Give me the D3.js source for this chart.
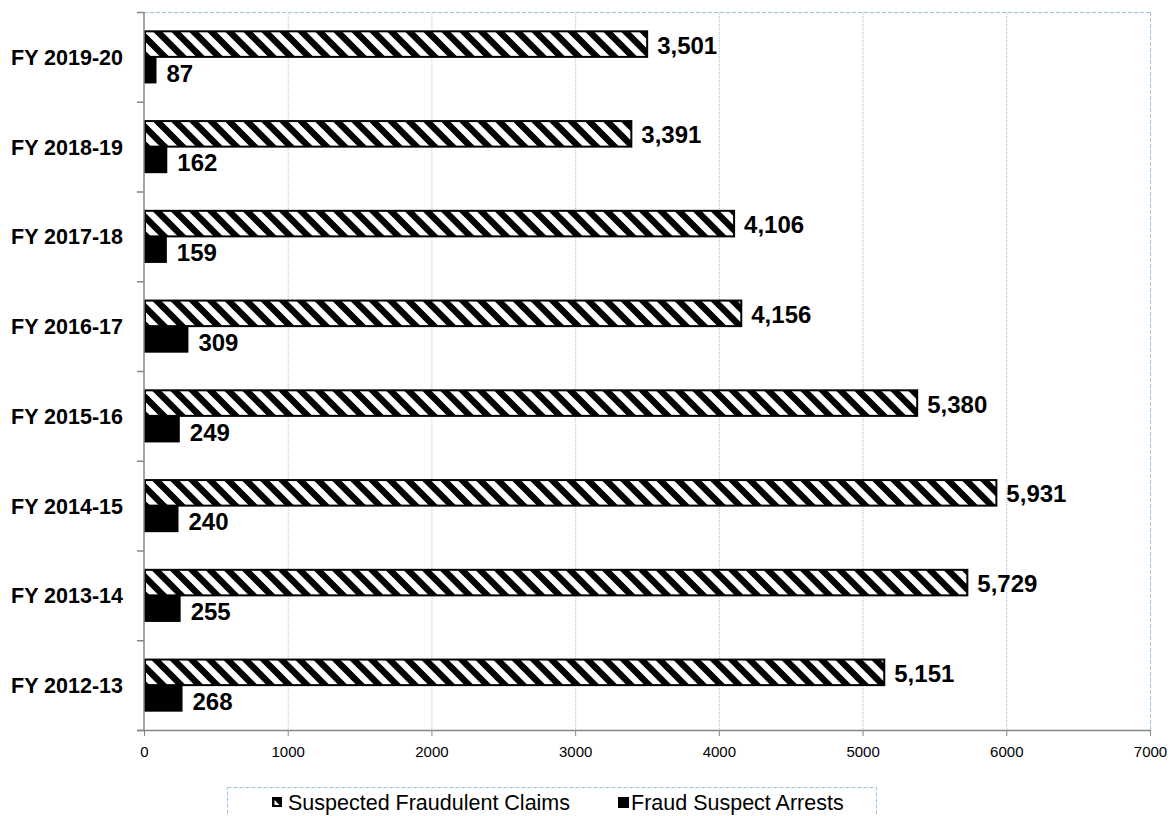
<!DOCTYPE html>
<html><head><meta charset="utf-8">
<script src="https://cdn.jsdelivr.net/npm/d3@7"></script>
<style>body{margin:0;background:#fff;} svg{display:block;font-family:"Liberation Sans",Arial,sans-serif;}</style>
</head><body>
<script>
const categories = ["FY 2019-20","FY 2018-19","FY 2017-18","FY 2016-17","FY 2015-16","FY 2014-15","FY 2013-14","FY 2012-13"];
const claims = [3501, 3391, 4106, 4156, 5380, 5931, 5729, 5151];
const arrests = [87, 162, 159, 309, 249, 240, 255, 268];
const xTicks = [0,1000,2000,3000,4000,5000,6000,7000];
const seriesNames = ["Suspected Fraudulent Claims","Fraud Suspect Arrests"];

(function(){
const W = 1173, H = 816;
const svg = d3.select("body").append("svg").attr("width", W).attr("height", H);
const defs = svg.append("defs");
const P = 18;
const pat = defs.append("pattern").attr("id","hatch").attr("patternUnits","userSpaceOnUse")
  .attr("width",P).attr("height",P);
pat.append("rect").attr("width",P).attr("height",P).attr("fill","#fff");
pat.append("path").attr("d",`M${-P},0 L${P},${2*P} M0,${-P} L${2*P},${P} M${-P},${-P} L${2*P},${2*P}`)
  .attr("stroke","#000").attr("stroke-width",P*0.36);

const pLeft = 144, pRight = 1150, pTop = 12, pBottom = 730;
const x = d3.scaleLinear().domain([0,7000]).range([pLeft,pRight]);
const y = d3.scaleBand().domain(categories).range([pTop,pBottom]);
const sub = d3.scaleBand().domain(["claims","arrests"]).range([0,y.bandwidth()]).paddingOuter(0.69);

const grid = "#9dc3e6";
svg.append("g").selectAll("line").data(xTicks.filter(t=>t>0 && t<7000)).join("line")
  .attr("x1",d=>x(d)+0.5).attr("x2",d=>x(d)+0.5).attr("y1",pTop).attr("y2",pBottom)
  .attr("stroke",grid).attr("stroke-width",1).attr("stroke-dasharray","1,1");
svg.append("line").attr("x1",pLeft).attr("x2",pRight).attr("y1",pTop+0.5).attr("y2",pTop+0.5)
  .attr("stroke",grid).attr("stroke-dasharray","4,2");
svg.append("line").attr("x1",pRight+0.5).attr("x2",pRight+0.5).attr("y1",pTop).attr("y2",pBottom)
  .attr("stroke",grid).attr("stroke-dasharray","4,2");

const rows = categories.map((c,i)=>({c, claims:claims[i], arrests:arrests[i]}));
const g = svg.append("g");
g.selectAll("rect.cl").data(rows).join("rect").attr("class","cl")
  .attr("x",x(0)+1).attr("y",d=>y(d.c)+sub("claims")+1)
  .attr("width",d=>x(d.claims)-x(0)-1).attr("height",sub.bandwidth()-1)
  .attr("fill","url(#hatch)").attr("stroke","#000").attr("stroke-width",2);
g.selectAll("rect.ar").data(rows).join("rect").attr("class","ar")
  .attr("x",x(0)).attr("y",d=>y(d.c)+sub("arrests"))
  .attr("width",d=>x(d.arrests)-x(0)).attr("height",sub.bandwidth())
  .attr("fill","#000");

const fmt = d3.format(",");
g.selectAll("text.vc").data(rows).join("text").attr("class","vc")
  .attr("x",d=>x(d.claims)+10).attr("y",d=>y(d.c)+sub("claims")+sub.bandwidth()/2+10)
  .attr("font-size",24).attr("font-weight","bold").text(d=>fmt(d.claims));
g.selectAll("text.va").data(rows).join("text").attr("class","va")
  .attr("x",d=>x(d.arrests)+10).attr("y",d=>y(d.c)+sub("arrests")+sub.bandwidth()/2+11.5)
  .attr("font-size",24).attr("font-weight","bold").text(d=>fmt(d.arrests));

const axisColor = "#868686";
const xa = svg.append("g").attr("transform",`translate(0,${pBottom})`)
  .call(d3.axisBottom(x).tickValues(xTicks).tickFormat(d3.format("d")).tickSize(6).tickSizeOuter(0).tickPadding(10));
xa.select(".domain").remove();
xa.append("line").attr("x1",pLeft-7).attr("x2",pRight).attr("y1",0.5).attr("y2",0.5).attr("stroke",axisColor).attr("stroke-width",1.5);
xa.selectAll(".tick line").attr("stroke",axisColor);
xa.selectAll(".tick text").attr("font-size",15).attr("fill","#000").attr("font-family","'Liberation Sans',Arial,sans-serif");

svg.append("line").attr("x1",pLeft).attr("x2",pLeft).attr("y1",pTop).attr("y2",pBottom)
  .attr("stroke",axisColor).attr("stroke-width",1.5);
const bounds = categories.map(c=>y(c)).concat([pBottom]);
svg.append("g").selectAll("line").data(bounds).join("line")
  .attr("x1",pLeft-7).attr("x2",pLeft).attr("y1",d=>d+0.5).attr("y2",d=>d+0.5)
  .attr("stroke",axisColor).attr("stroke-width",1.5);
svg.append("g").selectAll("text").data(categories).join("text")
  .attr("x",pLeft-21).attr("y",d=>y(d)+y.bandwidth()/2+8)
  .attr("text-anchor","end").attr("font-size",21.5).attr("font-weight","bold").text(d=>d);

const lg = svg.append("g");
lg.append("rect").attr("x",227.5).attr("y",787.5).attr("width",649).attr("height",60)
  .attr("fill","none").attr("stroke",grid).attr("stroke-dasharray","4,2");
lg.append("rect").attr("x",272).attr("y",797).attr("width",10).attr("height",10).attr("fill","#000");
lg.append("path").attr("d","M274.5,800 L277,802.5 L279.5,805 L274.5,805 Z").attr("fill","#fff");
lg.append("text").attr("x",288).attr("y",810).attr("font-size",21.5).text(seriesNames[0]);
lg.append("rect").attr("x",618).attr("y",797).attr("width",11).attr("height",11).attr("fill","#000");
lg.append("text").attr("x",631).attr("y",810).attr("font-size",21.5).text(seriesNames[1]);
})();
</script>
</body></html>
